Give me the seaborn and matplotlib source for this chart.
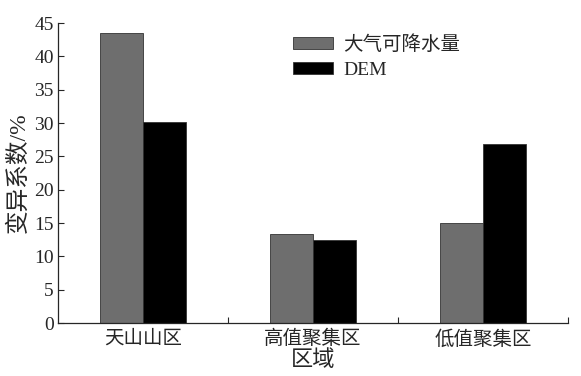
import matplotlib
matplotlib.use("Agg")
import matplotlib.pyplot as plt
import seaborn as sns
import pandas as pd
from matplotlib.ticker import FixedLocator

regions = ["天山山区", "高值聚集区", "低值聚集区"]
series_names = ["大气可降水量", "DEM"]
precip_cv = [43.5, 13.4, 15.0]
dem_cv = [30.2, 12.4, 26.8]
yticks = [0, 5, 10, 15, 20, 25, 30, 35, 40, 45]

df = pd.DataFrame({
    "区域": regions * 2,
    "值": precip_cv + dem_cv,
    "系列": [series_names[0]] * 3 + [series_names[1]] * 3,
})

sns.set_style("ticks")
plt.rcParams['font.family'] = ['Liberation Serif', 'Noto Sans CJK SC']
plt.rcParams['axes.unicode_minus'] = False

fig = plt.figure(figsize=(5.81, 3.76), dpi=100)
ax = fig.add_axes([58/581, 53/376, (568-58)/581, (323-23)/376])

sns.barplot(data=df, x="区域", y="值", hue="系列", order=regions,
            hue_order=series_names, palette=["#6e6e6e", "#000000"],
            width=0.506, ax=ax, edgecolor="#333333", linewidth=0.6)

ax.set_xlim(-0.5, 2.5)
ax.set_ylim(0, 45)
ax.set_yticks(yticks)
ax.set_yticklabels([str(t) for t in yticks], fontsize=14)
ax.set_xticks(range(len(regions)))
ax.set_xticklabels(regions, fontsize=14)
ax.xaxis.set_minor_locator(FixedLocator([0.5, 1.5, 2.5]))
ax.tick_params(axis="x", which="major", length=0, pad=5)
ax.tick_params(axis="x", which="minor", length=4, direction="in", width=0.8)
ax.tick_params(axis="y", direction="in", length=4, width=0.8, pad=3)
for s in ["top", "right"]:
    ax.spines[s].set_visible(False)
for s in ["left", "bottom"]:
    ax.spines[s].set_linewidth(0.9)

ax.set_xlabel("区域", fontsize=16, labelpad=1)
ax.set_ylabel("变异系数/%", fontsize=17, labelpad=3)

leg = ax.legend(loc="upper left", bbox_to_anchor=(0.427, 1.017), frameon=False,
                fontsize=14, handlelength=2.06, handleheight=0.55,
                handletextpad=0.5, labelspacing=0.4)

fig.savefig("out.png", dpi=100)
